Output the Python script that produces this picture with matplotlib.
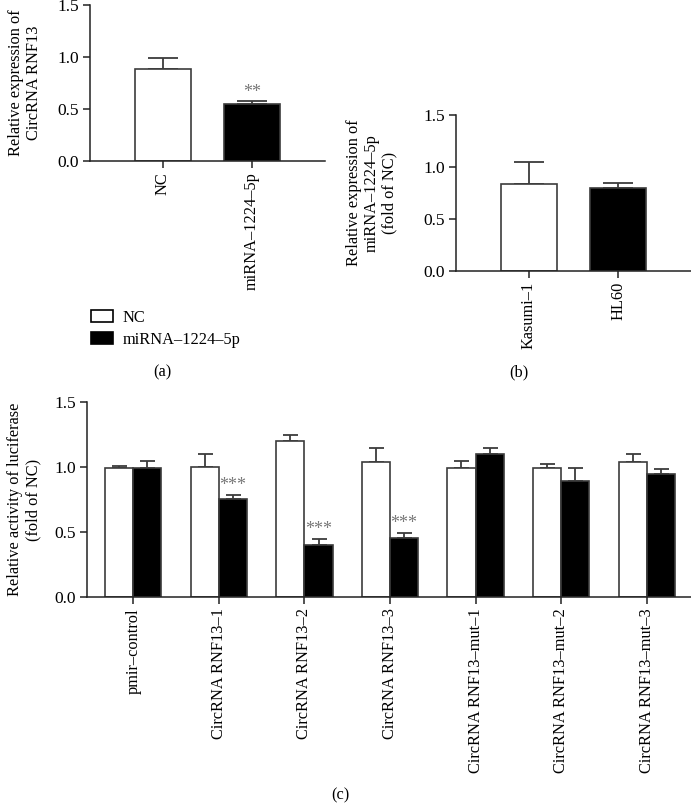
import matplotlib
matplotlib.use("Agg")
import matplotlib.pyplot as plt
import numpy as np
from matplotlib.patches import Patch

plt.rcParams['font.family'] = ['Liberation Serif', 'DejaVu Serif']
plt.rcParams['font.size'] = 12

# ---------------- data ----------------
a_cats = ["NC", "miRNA–1224–5p"]
a_vals = [0.885, 0.548]
a_err = [0.105, 0.027]
a_stars = ["", "**"]

b_cats = ["Kasumi–1", "HL60"]
b_vals = [0.837, 0.798]
b_err = [0.21, 0.048]

c_cats = ["pmir–control", "CircRNA RNF13–1", "CircRNA RNF13–2", "CircRNA RNF13–3",
          "CircRNA RNF13–mut–1", "CircRNA RNF13–mut–2", "CircRNA RNF13–mut–3"]
c_nc = [0.99, 1.0, 1.2, 1.04, 0.995, 0.995, 1.04]
c_nc_err = [0.02, 0.10, 0.048, 0.108, 0.053, 0.025, 0.06]
c_mi = [0.99, 0.754, 0.40, 0.454, 1.10, 0.895, 0.95]
c_mi_err = [0.06, 0.031, 0.046, 0.036, 0.048, 0.10, 0.037]
c_stars = ["", "***", "***", "***", "", "", ""]

legend_labels = ["NC", "miRNA–1224–5p"]
yticks = [0.0, 0.5, 1.0, 1.5]

EDGE = "#3c3c3c"
LBL = 11.8
TCK = 12.5
W, H = 691, 805
fig = plt.figure(figsize=(W / 100, H / 100), dpi=100)


def ax_at(x0, y0, x1, y1):
    return fig.add_axes([x0 / W, 1 - y1 / H, (x1 - x0) / W, (y1 - y0) / H])


def style(ax):
    for s in ["top", "right"]:
        ax.spines[s].set_visible(False)
    for s in ["left", "bottom"]:
        ax.spines[s].set_linewidth(1.1)
        ax.spines[s].set_color("#222222")
    ax.set_ylim(0, 1.5)
    ax.set_yticks(yticks)
    ax.set_yticklabels([f"{t:.1f}" for t in yticks], fontsize=TCK)
    ax.tick_params(direction="out", length=5, width=1.1, color="#222222", pad=3)
    for lab in ax.get_xticklabels():
        lab.set_fontsize(LBL)


def bars(ax, x, vals, errs, colors, width, capsize):
    ax.bar(x, vals, width=width, color=colors, edgecolor=EDGE, linewidth=1.2, zorder=2)
    ax.errorbar(x, vals, yerr=[np.zeros(len(vals)), errs], fmt="none", ecolor=EDGE,
                elinewidth=1.3, capsize=capsize, capthick=1.3, zorder=1)


# ---------------- panel (a) ----------------
axa = ax_at(90, 5, 325, 161)
xa = np.arange(len(a_cats))
bars(axa, xa, a_vals, a_err, ["white", "black"], 0.64, 10.5)
for i, s in enumerate(a_stars):
    if s:
        axa.text(xa[i], a_vals[i] + a_err[i] + 0.005, s, ha="center", va="bottom",
                 fontsize=13, color="#777777")
axa.set_xlim(-0.82, 1.82)
axa.set_xticks(xa)
axa.set_xticklabels(a_cats, rotation=90)
style(axa)
axa.set_ylabel("Relative expression of\nCircRNA RNF13", fontsize=LBL, linespacing=1.15)
axa.yaxis.set_label_coords(-0.205, 0.5)

# ---------------- panel (b) ----------------
axb = ax_at(456, 115, 691, 271)
xb = np.arange(len(b_cats))
bars(axb, xb, b_vals, b_err, ["white", "black"], 0.64, 10.5)
axb.set_xlim(-0.82, 1.82)
axb.set_xticks(xb)
axb.set_xticklabels(b_cats, rotation=90)
style(axb)
axb.set_ylabel("Relative expression of\nmiRNA–1224–5p\n(fold of NC)", fontsize=LBL, linespacing=1.15)
axb.yaxis.set_label_coords(-0.248, 0.5)

# ---------------- panel (c) ----------------
axc = ax_at(87, 402, 693, 597)
xc = np.arange(len(c_cats))
bw = 0.33
bars(axc, xc - bw / 2, c_nc, c_nc_err, "white", bw, 5.4)
bars(axc, xc + bw / 2, c_mi, c_mi_err, "black", bw, 5.4)
for i, s in enumerate(c_stars):
    if s:
        axc.text(xc[i] + bw / 2, c_mi[i] + c_mi_err[i] + 0.01, s, ha="center", va="bottom",
                 fontsize=13, color="#777777")
axc.set_xlim(-0.54, 6.54)
axc.set_xticks(xc)
axc.set_xticklabels(c_cats, rotation=90)
style(axc)
axc.set_ylabel("Relative activity of luciferase\n(fold of NC)", fontsize=LBL, linespacing=1.15)
axc.yaxis.set_label_coords(-0.076, 0.5)

# ---------------- legend and panel letters ----------------
handles = [Patch(facecolor="white", edgecolor="black", linewidth=1.2),
           Patch(facecolor="black", edgecolor="black", linewidth=1.2)]
fig.legend(handles, legend_labels, loc="center left", bbox_to_anchor=(76 / W, 1 - 329 / H),
           frameon=False, fontsize=LBL, handlelength=1.35, handleheight=0.75,
           labelspacing=0.35, handletextpad=0.6)

fig.text(162 / W, 1 - 372 / H, "(a)", ha="center", va="center", fontsize=LBL)
fig.text(519 / W, 1 - 372 / H, "(b)", ha="center", va="center", fontsize=LBL)
fig.text(340 / W, 1 - 795 / H, "(c)", ha="center", va="center", fontsize=LBL)

fig.savefig("out.png", dpi=100)
